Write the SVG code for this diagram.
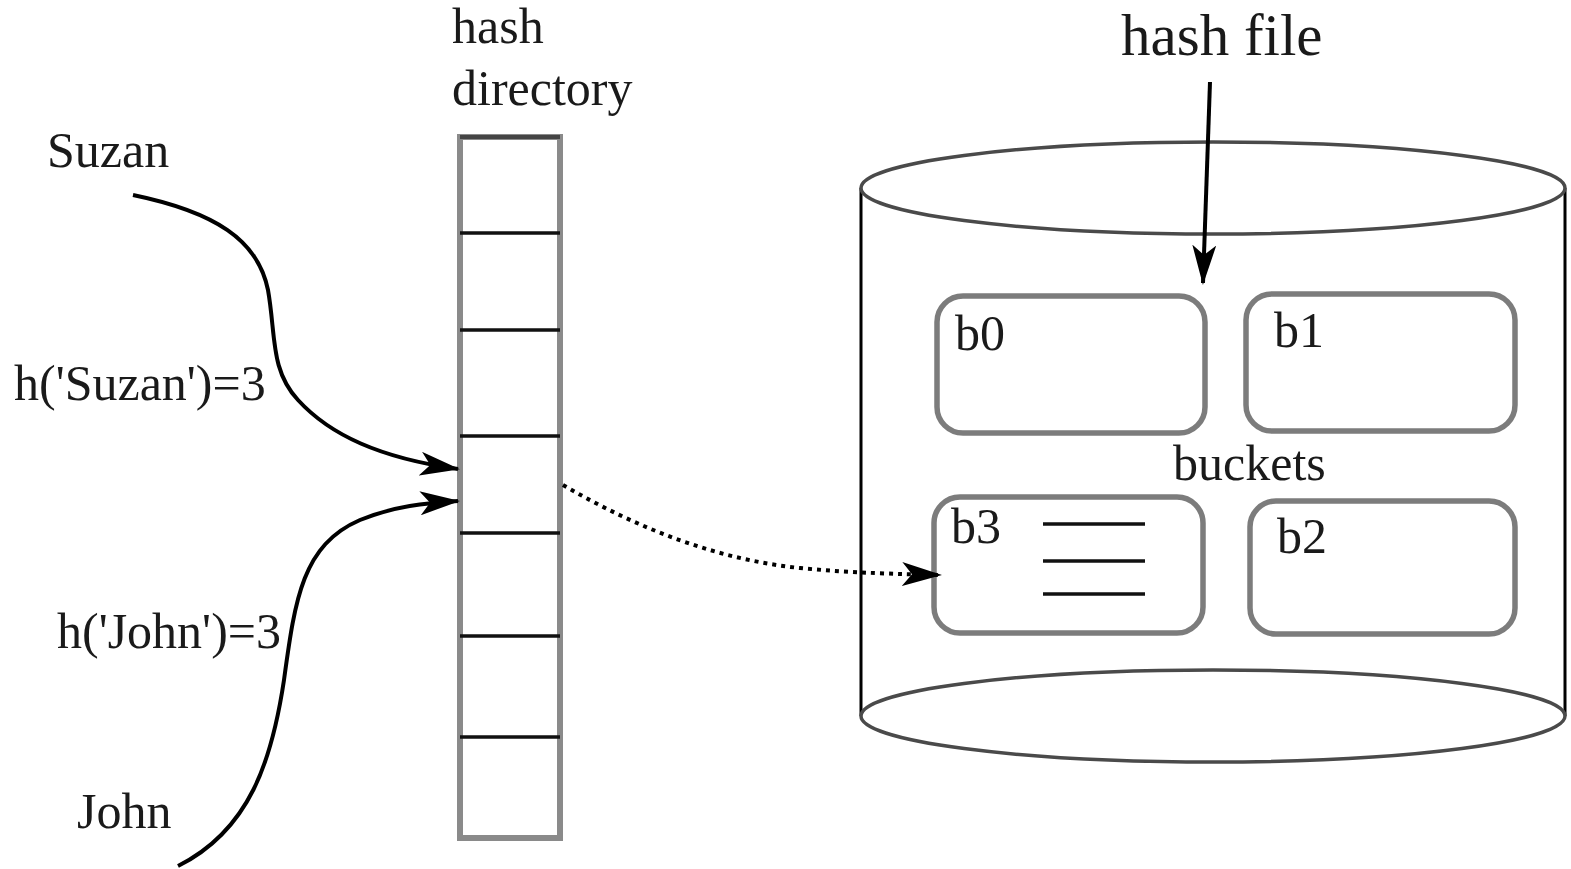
<svg xmlns="http://www.w3.org/2000/svg" width="1571" height="869" viewBox="0 0 1571 869">
  <style>
    .lbl { font-family: "Liberation Serif", "Times New Roman", serif; font-size: 50px; fill: #1a1a1a; }
    .title { font-size: 59px; }
    .cell { fill: #ffffff; stroke: #8a8a8a; stroke-width: 6; }
    .div { stroke: #111; stroke-width: 3.5; }
    .bucket { fill: #ffffff; stroke: #7c7c7c; stroke-width: 5.5; }
    .disk { fill: #ffffff; stroke: #4a4a4a; stroke-width: 3.5; }
    .side { stroke: #000; stroke-width: 3; }
    .wire { fill: none; stroke: #000; stroke-width: 4; }
    .dots { fill: none; stroke: #000; stroke-width: 4; stroke-dasharray: 4 5; }
  </style>
  <defs>
    <marker id="arrow" viewBox="0 0 40 24" refX="38" refY="12" markerUnits="userSpaceOnUse" markerWidth="40" markerHeight="24" orient="auto">
      <path d="M0,0 L40,12 L0,24 L10,12 Z" fill="#000"/>
    </marker>
  </defs>
  <rect width="1571" height="869" fill="#ffffff"/>

  <!-- hash directory column -->
  <g id="directory">
    <text class="lbl" x="452" y="43">hash</text>
    <text class="lbl" x="452" y="105">directory</text>
    <rect class="cell" x="460" y="137" width="100" height="701"/>
    <line x1="460" y1="137" x2="560" y2="137" stroke="#444" stroke-width="4"/>
    <line class="div" x1="460" y1="233" x2="560" y2="233"/>
    <line class="div" x1="460" y1="330" x2="560" y2="330"/>
    <line class="div" x1="460" y1="436" x2="560" y2="436"/>
    <line class="div" x1="460" y1="533" x2="560" y2="533"/>
    <line class="div" x1="460" y1="636" x2="560" y2="636"/>
    <line class="div" x1="460" y1="737" x2="560" y2="737"/>
  </g>

  <!-- keys and hash values -->
  <g id="key-suzan">
    <text class="lbl" x="47" y="167">Suzan</text>
    <text class="lbl" x="14" y="400">h('Suzan')=3</text>
  </g>
  <g id="key-john">
    <text class="lbl" x="57" y="648">h('John')=3</text>
    <text class="lbl" x="77" y="828">John</text>
  </g>

  <!-- hash file cylinder -->
  <g id="hash-file">
    <rect x="861" y="188" width="704" height="528" fill="#ffffff"/>
    <line class="side" x1="861" y1="188" x2="861" y2="716"/>
    <line class="side" x1="1565" y1="188" x2="1565" y2="716"/>
    <ellipse class="disk" cx="1213" cy="716" rx="352" ry="46"/>
    <ellipse class="disk" cx="1213" cy="188" rx="352" ry="46"/>
    <text class="lbl title" x="1121" y="55">hash file</text>
    <text class="lbl" x="1173" y="480">buckets</text>
  </g>

  <g id="bucket-b0">
    <rect class="bucket" x="937" y="296" width="268" height="137" rx="26"/>
    <text class="lbl" x="955" y="350">b0</text>
  </g>
  <g id="bucket-b1">
    <rect class="bucket" x="1246" y="294" width="269" height="137" rx="26"/>
    <text class="lbl" x="1274" y="347">b1</text>
  </g>
  <g id="bucket-b3">
    <rect class="bucket" x="934" y="497" width="269" height="136" rx="26"/>
    <text class="lbl" x="951" y="543">b3</text>
    <line class="div" x1="1043" y1="524" x2="1145" y2="524"/>
    <line class="div" x1="1043" y1="561" x2="1145" y2="561"/>
    <line class="div" x1="1043" y1="594" x2="1145" y2="594"/>
  </g>
  <g id="bucket-b2">
    <rect class="bucket" x="1250" y="501" width="265" height="133" rx="26"/>
    <text class="lbl" x="1277" y="553">b2</text>
  </g>

  <!-- connectors -->
  <g id="connectors">
    <path class="wire" d="M133,195 C215,212 258,240 268,290 C276,335 270,370 298,400 C330,435 380,458 458,469" marker-end="url(#arrow)"/>
    <path class="wire" d="M178,866 C250,830 272,760 284,680 C295,600 302,545 360,520 C395,506 425,503 458,501" marker-end="url(#arrow)"/>
    <path class="dots" d="M563,485 C640,530 720,560 800,568 C850,573 900,574 940,575" marker-end="url(#arrow)"/>
    <path class="wire" d="M1210,82 L1203,283" marker-end="url(#arrow)"/>
  </g>
</svg>
